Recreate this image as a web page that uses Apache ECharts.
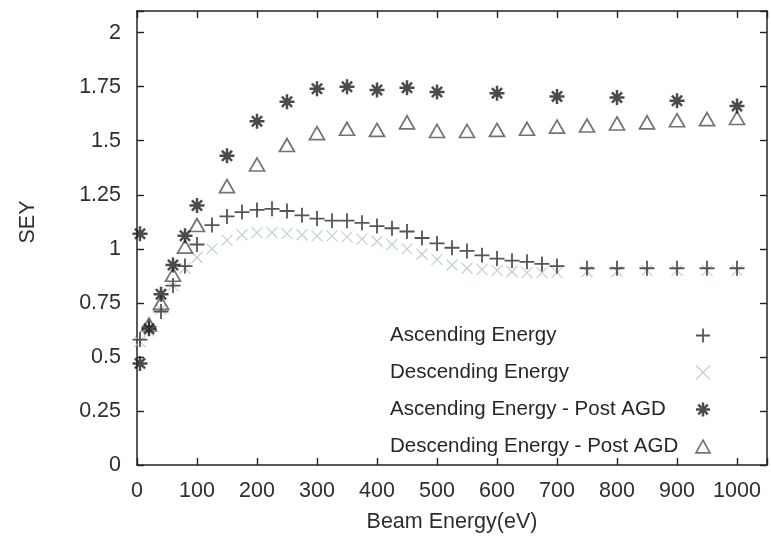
<!DOCTYPE html>
<html>
<head>
<meta charset="utf-8">
<script src="https://cdn.jsdelivr.net/npm/echarts@6/dist/echarts.min.js"></script>
<style>
html,body{margin:0;padding:0;background:#fff;}
#chart{width:771px;height:538px;}
</style>
</head>
<body>
<div id="chart"></div>
<script>
// ---- data ----
var ascEnergy = [5,20,40,60,80,100,125,150,175,200,225,250,275,300,325,350,375,400,425,450,475,500,525,550,575,600,625,650,675,700,750,800,850,900,950,1000];
var ascSEY    = [0.58,0.64,0.71,0.83,0.92,1.02,1.11,1.15,1.17,1.18,1.185,1.175,1.155,1.14,1.13,1.13,1.12,1.105,1.095,1.08,1.05,1.025,1.005,0.99,0.97,0.955,0.945,0.94,0.93,0.92,0.91,0.91,0.91,0.91,0.91,0.91];

var descEnergy = [5,20,40,60,80,100,125,150,175,200,225,250,275,300,325,350,375,400,425,450,475,500,525,550,575,600,625,650,675,700,750,800,850,900,950,1000];
var descSEY    = [0.57,0.62,0.72,0.83,0.91,0.96,1.0,1.04,1.065,1.075,1.075,1.07,1.065,1.06,1.06,1.055,1.045,1.035,1.02,1.0,0.975,0.95,0.925,0.91,0.905,0.9,0.895,0.89,0.89,0.89,0.895,0.895,0.9,0.9,0.9,0.9];

var ascAgdEnergy = [5,5,20,40,60,80,100,150,200,250,300,350,400,450,500,600,700,800,900,1000];
var ascAgdSEY    = [1.07,0.47,0.63,0.79,0.925,1.06,1.2,1.43,1.59,1.68,1.74,1.75,1.735,1.745,1.725,1.72,1.705,1.70,1.685,1.66];

var descAgdEnergy = [20,40,60,80,100,150,200,250,300,350,400,450,500,550,600,650,700,750,800,850,900,950,1000];
var descAgdSEY    = [0.65,0.75,0.88,1.01,1.11,1.29,1.39,1.48,1.535,1.555,1.55,1.585,1.545,1.545,1.55,1.555,1.565,1.57,1.58,1.585,1.595,1.6,1.605];

var seriesNames = ['Ascending Energy','Descending Energy','Ascending Energy - Post AGD','Descending Energy - Post AGD'];
var xTickLabels = ['0','100','200','300','400','500','600','700','800','900','1000'];
var yTickLabels = ['0','0.25','0.5','0.75','1','1.25','1.5','1.75','2'];

function pairs(xs, ys){ var o=[]; for(var i=0;i<xs.length;i++) o.push([xs[i], ys[i]]); return o; }

var PLUS = 'path://M0,5L10,5M5,0L5,10';
var CROSS = 'path://M0,0L10,10M10,0L0,10';
var STAR = 'path://M5,0L5,10M0,5L10,5M1.6,1.6L8.4,8.4M8.4,1.6L1.6,8.4';
var TRI = 'path://M5,0L10,9L0,9Z';

var FONT = 'Liberation Sans';
var AX = '#222';

function xLabel(v){ var s=String(Math.round(v)); return (xTickLabels.indexOf(s)>=0 && Math.abs(v-Math.round(v))<1e-6) ? s : ''; }
function yLabel(v){ var r=Math.round(v*100)/100; var s=String(r); return (yTickLabels.indexOf(s)>=0 && Math.abs(v-r)<1e-6) ? s : ''; }

var chart = echarts.init(document.getElementById('chart'), null, {renderer:'canvas'});

var styles = [
  {symbol: PLUS,  size: 15, item:{color:'rgba(0,0,0,0)', borderColor:'#2b2b2b', borderWidth:1.8}},
  {symbol: CROSS, size: 11, item:{color:'rgba(0,0,0,0)', borderColor:'#adc6ce', borderWidth:1.2}},
  {symbol: STAR,  size: 15, item:{color:'rgba(0,0,0,0)', borderColor:'#1e1e1e', borderWidth:2.5}},
  {symbol: TRI,   size: [15,13], item:{color:'rgba(255,255,255,0)', borderColor:'#505050', borderWidth:1.7}}
];
var datasets = [pairs(ascEnergy, ascSEY), pairs(descEnergy, descSEY), pairs(ascAgdEnergy, ascAgdSEY), pairs(descAgdEnergy, descAgdSEY)];

var series = [];
for (var i=0;i<4;i++){
  series.push({
    name: seriesNames[i], type:'scatter', xAxisIndex:0, yAxisIndex:0,
    symbol: styles[i].symbol, symbolSize: styles[i].size,
    itemStyle: styles[i].item, data: datasets[i], z: [2,1,3,2][i],
    emphasis:{disabled:true}, animation:false
  });
}

var axisCommon = {
  axisLine:{show:true, onZero:false, lineStyle:{color:AX, width:1.5}},
  axisTick:{show:true, inside:true, length:7, lineStyle:{color:AX, width:1.4}},
  splitLine:{show:false}
};

var option = {
  backgroundColor:'#ffffff',
  animation:false,
  grid:{left:137, right:4, top:11, bottom:73, containLabel:false},
  legend:{
    orient:'vertical', left:390, top:325, padding:0, itemGap:16,
    align:'right', itemWidth:14, itemHeight:14, selectedMode:false,
    formatter: function(n){ return '{t|' + n + '}'; },
    textStyle:{rich:{t:{fontFamily:FONT, fontSize:20.5, color:'#262626', width:301, align:'left'}}},
    data: seriesNames.map(function(n,i){ return {name:n, icon:(styles[i].symbol), itemStyle: styles[i].item}; })
  },
  xAxis:[
    Object.assign({}, axisCommon, {
      type:'value', position:'bottom', min:0, max:1050, interval:100,
      axisLabel:{fontFamily:FONT, fontSize:21.5, color:'#2e2e2e', margin:15, formatter:xLabel},
      name:'Beam Energy(eV)', nameLocation:'middle', nameGap:46,
      nameTextStyle:{fontFamily:FONT, fontSize:21.5, color:'#2e2e2e'}
    }),
    Object.assign({}, axisCommon, {
      type:'value', position:'top', min:0, max:1050, interval:100,
      axisLabel:{show:false}
    })
  ],
  yAxis:[
    Object.assign({}, axisCommon, {
      type:'value', position:'left', min:0, max:2.1, interval:0.25,
      axisLabel:{fontFamily:FONT, fontSize:21.5, color:'#2e2e2e', margin:16, formatter:yLabel},
      name:'SEY', nameLocation:'middle', nameGap:98,
      nameTextStyle:{fontFamily:FONT, fontSize:21.5, color:'#2e2e2e', padding:[0,0,0,32]}
    }),
    Object.assign({}, axisCommon, {
      type:'value', position:'right', min:0, max:2.1, interval:0.25,
      axisLabel:{show:false}
    })
  ],
  series: series
};
chart.setOption(option);
</script>
</body>
</html>
